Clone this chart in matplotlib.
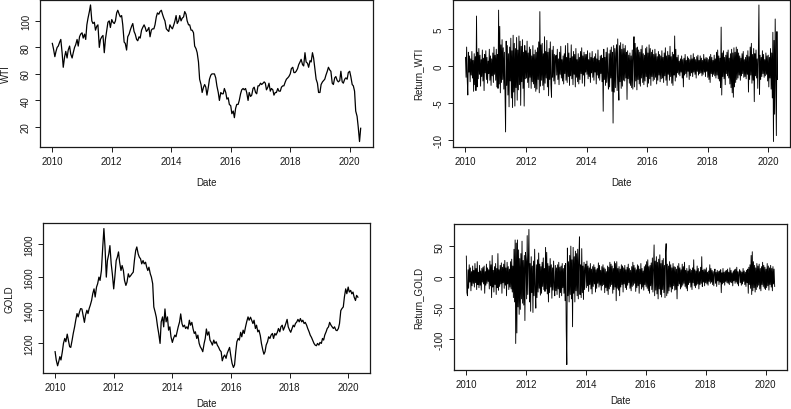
import matplotlib
matplotlib.use('Agg')
import matplotlib.pyplot as plt
import pandas as pd

plt.rcParams['font.family'] = ['Liberation Sans', 'DejaVu Sans']
plt.rcParams['font.size'] = 7

wti = [
    83, 79, 73, 77, 80, 81, 84, 86, 76, 65, 73, 77, 72, 78, 81, 75, 72, 76, 80, 82, 86, 81, 88, 90,
    91, 87, 90, 86, 97, 102, 107, 112, 100, 98, 99, 93, 96, 97, 80, 86, 88, 89, 76, 86, 93, 99, 100, 95,
    101, 99, 98, 100, 106, 108, 105, 103, 104, 97, 84, 83, 78, 88, 90, 93, 96, 98, 92, 90, 86, 85, 88, 87,
    93, 95, 97, 95, 92, 93, 95, 88, 93, 94, 94, 97, 103, 106, 105, 107, 108, 105, 102, 100, 94, 93, 92, 97,
    95, 94, 97, 100, 104, 98, 100, 104, 100, 102, 103, 107, 105, 100, 97, 97, 93, 93, 91, 81, 79, 76, 69, 56,
    52, 46, 50, 52, 50, 44, 50, 56, 59, 60, 60, 60, 57, 51, 46, 40, 46, 45, 45, 49, 46, 41, 42, 37,
    36, 30, 32, 27, 34, 37, 37, 40, 45, 48, 49, 48, 49, 46, 40, 46, 43, 44, 49, 50, 46, 45, 51, 51,
    53, 52, 53, 54, 53, 48, 50, 53, 47, 49, 48, 44, 46, 46, 49, 47, 47, 50, 51, 51, 54, 56, 57, 58,
    60, 64, 65, 61, 61, 62, 64, 67, 69, 71, 67, 66, 76, 69, 68, 65, 70, 69, 76, 72, 63, 56, 53, 46,
    46, 52, 54, 55, 56, 59, 62, 65, 63, 62, 53, 52, 57, 58, 55, 54, 55, 62, 54, 53, 56, 57, 56, 61,
    62, 58, 52, 51, 47, 32, 28, 20, 9, 19,
]

gold = [
    1150, 1100, 1065, 1090, 1120, 1100, 1150, 1200, 1230, 1210, 1256, 1220,
    1180, 1176, 1220, 1260, 1300, 1340, 1380, 1360, 1390, 1410, 1408, 1370,
    1327, 1370, 1400, 1380, 1410, 1430, 1460, 1500, 1529, 1480, 1540, 1560,
    1600, 1580, 1640, 1760, 1893, 1780, 1600, 1700, 1740, 1790, 1680, 1620,
    1529, 1600, 1700, 1720, 1752, 1690, 1640, 1670, 1640, 1580, 1550, 1570,
    1620, 1600, 1610, 1620, 1630, 1700, 1760, 1782, 1740, 1721, 1710, 1680,
    1700, 1680, 1690, 1660, 1640, 1660, 1620, 1600, 1560, 1420, 1388, 1358,
    1300, 1260, 1200, 1330, 1360, 1300, 1408, 1330, 1360, 1280, 1300, 1240,
    1206, 1230, 1250, 1240, 1270, 1300, 1330, 1378, 1320, 1300, 1310, 1290,
    1300, 1287, 1340, 1310, 1327, 1290, 1260, 1270, 1230, 1250, 1200, 1180,
    1166, 1150, 1200, 1230, 1287, 1250, 1270, 1220, 1206, 1190, 1220, 1200,
    1210, 1190, 1176, 1160, 1150, 1095, 1120, 1130, 1110, 1140, 1160, 1176,
    1120, 1080, 1055, 1070, 1150, 1210, 1230, 1220, 1267, 1240, 1280, 1260,
    1300, 1330, 1360, 1340, 1358, 1340, 1320, 1340, 1290, 1310, 1270, 1280,
    1247, 1200, 1160, 1135, 1150, 1190, 1210, 1240, 1230, 1250, 1260, 1230,
    1260, 1250, 1267, 1290, 1270, 1300, 1310, 1280, 1300, 1320, 1345, 1300,
    1280, 1267, 1290, 1310, 1300, 1320, 1330, 1345, 1330, 1350, 1330, 1340,
    1320, 1327, 1310, 1290, 1270, 1250, 1236, 1220, 1200, 1190, 1186, 1200,
    1190, 1206, 1200, 1230, 1220, 1250, 1270, 1290, 1300, 1327, 1310, 1300,
    1290, 1300, 1280, 1277, 1290, 1320, 1398, 1410, 1420, 1480, 1529, 1500,
    1540, 1510, 1520, 1499, 1510, 1480, 1459, 1490, 1479,
]

# ---- weekly changes ----
ret_wti = [
    1.2, -1.5, 2.6, -1.8, -3.9, 1.9, -0.8, 1.4, -2.1, 1.0, -1.2, 2.0, -1.6,
    0.8, -3.4, 1.7, -2.5, 1.3, -3.3, 6.8, -2.8, 1.9, -1.7, 2.4, -1.1, 1.5,
    -2.7, 0.9, -1.4, 2.2, -2.0, 1.1, -3.3, 1.6, -0.9, 2.1, -1.8, 1.2, -2.3,
    0.7, -1.0, 2.3, -1.9, 1.4, -2.6, 1.0, -1.3, 1.8, -2.2, 2.6, -1.1, 1.5,
    -1.9, 2.3, -2.8, 1.6, -3.0, 7.6, -2.4, 5.4, -3.6, 2.9, -2.2, 3.6, -1.8,
    2.5, -3.1, 1.9, -4.0, -8.9, 3.4, -2.6, 2.8, -3.9, 1.7, -5.5, 2.6, -2.0,
    3.8, -4.3, 2.1, -5.6, 4.2, -3.5, 3.1, -5.4, 2.4, -2.9, 3.9, -4.6, 2.2,
    -3.2, 4.1, -2.5, 3.4, -5.3, 2.7, -2.1, 3.6, -3.0, 1.9, -5.4, 2.8, -1.7,
    2.1, -1.6, 3.4, -2.2, 1.8, -2.9, 2.6, -1.5, 2.3, -3.0, 1.4, -2.1, 2.8,
    -2.4, 1.6, -2.9, 2.2, -3.4, 1.9, -3.1, 2.5, -1.8, 3.3, -3.6, 7.4, -2.7,
    2.9, -1.9, 3.1, -2.6, 1.7, -3.2, 4.0, -2.3, 2.0, -1.6, 3.5, -2.8, 1.9,
    -4.0, 2.4, -1.8, 3.3, -2.5, -4.2, 2.2, -1.5, 2.7, -2.0, 1.6, -2.4, 1.3,
    1.5, -1.2, 2.3, -1.8, 1.0, -2.5, 1.9, -1.1, 2.7, -1.6, 0.9, -2.0, 1.4,
    -2.4, 1.7, -1.0, 2.8, -1.9, 1.2, -2.2, 3.1, -1.4, 1.8, -2.6, 1.1, -1.3,
    2.9, -1.7, 1.3, -2.5, 2.0, -1.1, 1.6, -2.8, 2.4, -1.5, 0.9, -2.1, 1.7,
    -2.4, 1.2, -1.8, 2.0, -1.0, 2.5, -2.3, 1.4, -1.2, 1.9, -2.7, 1.6, -0.8,
    1.6, -1.1, 2.1, -1.7, 0.9, -1.4, 1.8, -2.2, 1.2, -0.9, 2.0, -1.5, 1.1,
    -1.9, 1.3, -0.8, 1.7, -2.4, 1.0, -1.2, 2.2, -1.6, 0.8, -1.9, 1.4, -1.0,
    1.5, -2.1, 1.1, -6.1, 2.3, -1.8, 1.2, -2.6, 1.9, -2.2, 2.5, -1.4, -3.1,
    1.7, -2.8, 2.2, -1.6, 2.6, -3.4, 1.9, -7.7, 2.8, -3.5, 2.4, -2.9, 1.8,
    2.9, -3.3, 3.7, -2.4, -4.6, 2.8, -2.1, 3.2, -3.0, 2.3, -2.7, 3.0, -1.9,
    2.4, -2.0, 2.8, -1.6, 1.9, -4.5, 2.1, -1.7, 1.5, -2.3, 1.8, -2.6, 1.4,
    -2.9, 2.2, -3.1, 1.6, 4.0, -2.8, 3.1, -2.0, 2.5, -3.2, 2.6, -1.8, 2.2,
    -2.4, 1.9, -2.7, 2.3, -1.6, 2.8, -2.2, 1.7, -2.5, 1.5, -2.0, 2.4, -1.4,
    2.6, -2.8, 1.8, -2.3, 2.9, -1.7, 2.4, -2.6, 1.9, -1.4, 2.2, -2.0, 1.6,
    -1.8, 2.3, -1.5, 1.7, -2.4, 1.3, -1.9, 2.0, -1.2, 1.6, -2.1, 1.4, -1.7,
    2.1, -1.6, 1.2, -2.2, 1.8, -1.3, 2.5, -1.9, 1.4, -2.6, 2.0, -1.1, 1.5,
    -1.9, 2.7, -1.4, 1.3, -2.3, 1.9, -2.6, 1.6, -1.2, 4.1, -2.0, 2.3, -1.5,
    1.2, -0.9, 1.5, -1.1, 0.7, -1.3, 1.0, -0.8, 1.4, -1.6, 0.9, -2.8, 1.1,
    -1.2, 1.6, -1.0, 0.8, -1.5, 1.3, -0.7, 1.1, -1.8, 0.9, -1.3, 1.5, -0.9,
    1.0, -1.4, 1.7, -0.8, 1.2, -1.1, 0.9, -1.6, 1.3, -0.7, 1.5, -1.2, 0.8,
    -1.0, 1.4, -0.9, 1.1, -1.3, 0.8, -1.1, 1.6, -0.8, 1.0, -1.4, 1.2, -0.7,
    1.1, -1.5, 0.9, -1.8, 1.3, -2.2, 1.6, -1.0, 1.2, -1.4, 0.8, -1.1, 1.5,
    -1.3, 1.0, -1.6, 1.9, -1.2, 2.2, -1.7, 1.4, -2.0, 1.1, -2.9, 5.3, -3.9,
    1.8, -1.4, 2.1, -1.7, 1.2, -2.5, 1.5, -1.0, 1.9, -1.3, 2.2, -1.6, 1.1,
    -2.4, 1.7, -2.9, 2.3, -3.6, 1.8, -4.2, 2.5, -2.8, 1.9, -2.2, 2.6, -1.8,
    2.3, -1.6, 1.8, -1.2, 1.4, -1.9, 1.1, -1.3, 1.7, -1.0, 2.0, -1.5, 0.9,
    -1.4, 1.2, -1.7, 1.5, -1.1, 2.1, -3.5, 1.3, -1.8, 2.6, -1.2, 3.1, -2.3,
    1.6, -1.9, 2.4, -4.8, 1.7, -1.3, 2.2, -1.6, 1.0, -3.0, 1.4, 8.3, -3.8,
    1.5, -1.8, 1.2, -1.4, 2.1, -1.0, 1.6, -1.5, 0.9, -1.3, 1.8, -1.1, 1.4,
    -2.0, 1.5, -2.8, 1.2, -1.6, 2.4, -3.1, 1.8, -4.3, 4.6, -10.2, 3.5, -6.5,
    6.4, -2.2, -9.4, 4.7, -1.8,
]

ret_gold = [
    34, -25, -30, 12, -18, 20, -8, 15, -22, 9, -14, 18, -10,
    11, -16, 22, -9, 14, -20, 25, -12, 8, -17, 19, -13, 10,
    -21, 14, -8, 16, -11, 18, -26, 9, -13, 21, -10, 15, -7,
    12, -19, 26, -14, 20, -33, 35, -16, 11, -24, 17, -12, 22,
    -28, 14, -17, 38, -21, 12, -15, 19, -11, 23, -26, 16, -9,
    21, -18, 27, -13, 15, -30, 24, -11, 17, -20, 13, -16, 25,
    -19, 29, -24, 18, -33, 45, -40, 60, -107, 55, -90, 60, -48,
    44, -60, 30, -52, 38, -35, 58, -42, 27, -45, 35, -70, 40,
    25, -35, 67, -28, 30, 77, -40, 22, -55, 33, -25, 18, -57,
    26, -30, 45, -22, -50, 20, -33, 28, -24, 39, -18, 21, -29,
    17, -26, 24, -15, 31, -20, 14, -23, 48, -19, 40, -27, 22,
    -40, 18, -25, 30, -16, 20, -34, 15, -21, 26, -14, -30, 19,
    -22, 15, -28, 20, -19, 24, -33, 16, -25, 18, -30, 22, -17,
    14, -26, 19, -38, 22, -85, -141, 47, -30, 25, -40, 35, -28,
    50, -35, 28, -80, 48, -26, 33, -40, 42, -22, 38, -30, 45,
    -35, 27, 65, -28, 20, -33, 46, -25, 18, -36, 24, -20, 15,
    21, -17, 26, -14, 18, -23, 15, -12, 22, -19, 13, -27, 17,
    -15, 20, -11, 16, -24, 12, -18, 14, -10, 23, -16, 19, -13,
    11, -21, 17, -14, 20, -12, 15, -25, 13, -17, 9, -22, 18,
    -28, 16, -19, 24, -15, 21, -12, 18, -26, 14, -20, 25, -16,
    22, -38, 25, -18, 14, -21, 17, -30, 13, -16, 20, -12, 18,
    -24, 15, -11, 19, -17, 12, -20, 16, -13, 21, -9, 14, -18,
    11, -22, 17, -15, 24, -13, 19, -10, 15, -23, 12, -17, 20,
    -14, 18, -26, 13, -11, 22, -19, 14, -16, 10, -21, 17, -12,
    20, -15, 25, -18, 28, -22, 17, -26, 19, -14, 23, -20, 31,
    -24, 18, 52, -30, 26, -21, 33, -27, 24, -35, 29, -19, 36,
    -28, 22, -32, 27, -20, 30, -25, 19, -33, 40, 54, -30, 21,
    -26, 18, -22, 25, -16, 20, -24, 15, -19, 22, -14, 17, -21,
    16, -20, 13, -35, 18, -14, 22, -11, 15, -19, 12, -16, 21,
    -13, 17, -10, 24, -15, 11, -18, 14, -22, 10, -12, 19, -9,
    13, -16, 11, -20, 15, -9, 28, -14, 12, -17, 10, -13, 18,
    -11, 14, -19, 9, -12, 16, -10, 33, -15, 11, -8, 13, -14,
    12, -9, 15, -11, 8, -13, 10, -7, 20, -10, 14, -8, 11,
    -12, 9, -14, 7, 13, -10, 8, -15, 11, -6, 9, -12, 10,
    -8, 12, -25, 7, -11, 14, -9, 8, -13, 10, -7, 11, -9,
    13, -10, 8, -12, 15, -8, 11, -9, 7, -14, 10, -6, 12,
    -10, 13, -8, 16, -11, 9, -14, 7, 12, -9, 10, -13, 8,
    -11, 14, -7, 10, -12, 8, -15, 11, -9, 13, -26, 16, -12,
    20, -18, 35, -28, 41, -22, 25, -17, 19, -24, 15, -20, 22,
    -16, 18, -13, 21, -19, 14, -22, 17, -12, 24, -15, 19, -18,
    16, -20, 13, -17, 22, -14, 18, -21, 15, -12, 19, -16, 14,
    -22, 17, -11, 13, -15,
]

year_ticks = [2010, 2012, 2014, 2016, 2018, 2020]
wti_yticks = [20, 40, 60, 80, 100]
ret_wti_yticks = [-10, -5, 0, 5]
gold_yticks = [1200, 1400, 1600, 1800]
ret_gold_yticks = [-100, -50, 0, 50]

# dates
price_dates_wti = pd.date_range('2010-01-01', periods=len(wti), freq='SMS')
price_dates_gold = pd.date_range('2010-01-01', periods=len(gold), freq='SMS')
ret_dates_wti = pd.date_range('2010-01-04', periods=len(ret_wti), freq='W-MON')
ret_dates_gold = pd.date_range('2010-01-04', periods=len(ret_gold), freq='W-MON')

W, H = 791, 410
fig = plt.figure(figsize=(W / 100, H / 100), dpi=100)


def panel(l, t, r, b):
    return fig.add_axes([l / W, 1 - b / H, (r - l) / W, (b - t) / H])


def style(ax, yticks, ylab, ylab_x, xlab_y):
    ax.margins(x=0.04, y=0.04)
    ax.set_xticks([pd.Timestamp(year=y, month=1, day=1) for y in year_ticks])
    ax.set_xticklabels([str(y) for y in year_ticks])
    ax.set_yticks(yticks)
    ax.set_yticklabels([str(v) for v in yticks])
    ax.tick_params(direction='out', length=3.5, width=0.7, pad=3,
                   labelsize=7, colors='#1a1a1a')
    ax.tick_params(axis='y', labelrotation=90)
    for lab in ax.get_yticklabels():
        lab.set_va('center')
    for s in ax.spines.values():
        s.set_linewidth(0.9)
        s.set_color('#1a1a1a')
    ax.set_xlabel('Date', fontsize=7, color='#1a1a1a')
    ax.set_ylabel(ylab, fontsize=7, color='#1a1a1a')
    ax.xaxis.set_label_coords(0.5, xlab_y)
    ax.yaxis.set_label_coords(ylab_x, 0.5)


ax1 = panel(40, 0.5, 373, 148)
ax1.plot(price_dates_wti, wti, color='black', lw=0.9)
style(ax1, wti_yticks, 'WTI', -0.086, -0.2)

ax2 = panel(453, 0.5, 790, 148)
ax2.plot(ret_dates_wti, ret_wti, color='black', lw=0.65)
style(ax2, ret_wti_yticks, 'Return_WTI', -0.0875, -0.2)

ax3 = panel(43, 224, 370, 374)
ax3.plot(price_dates_gold, gold, color='black', lw=0.9)
style(ax3, gold_yticks, 'GOLD', -0.086, -0.168)

ax4 = panel(454, 225, 787, 371)
ax4.plot(ret_dates_gold, ret_gold, color='black', lw=0.65)
style(ax4, ret_gold_yticks, 'Return_GOLD', -0.093, -0.17)

fig.savefig('out.png', dpi=100, facecolor='white')
